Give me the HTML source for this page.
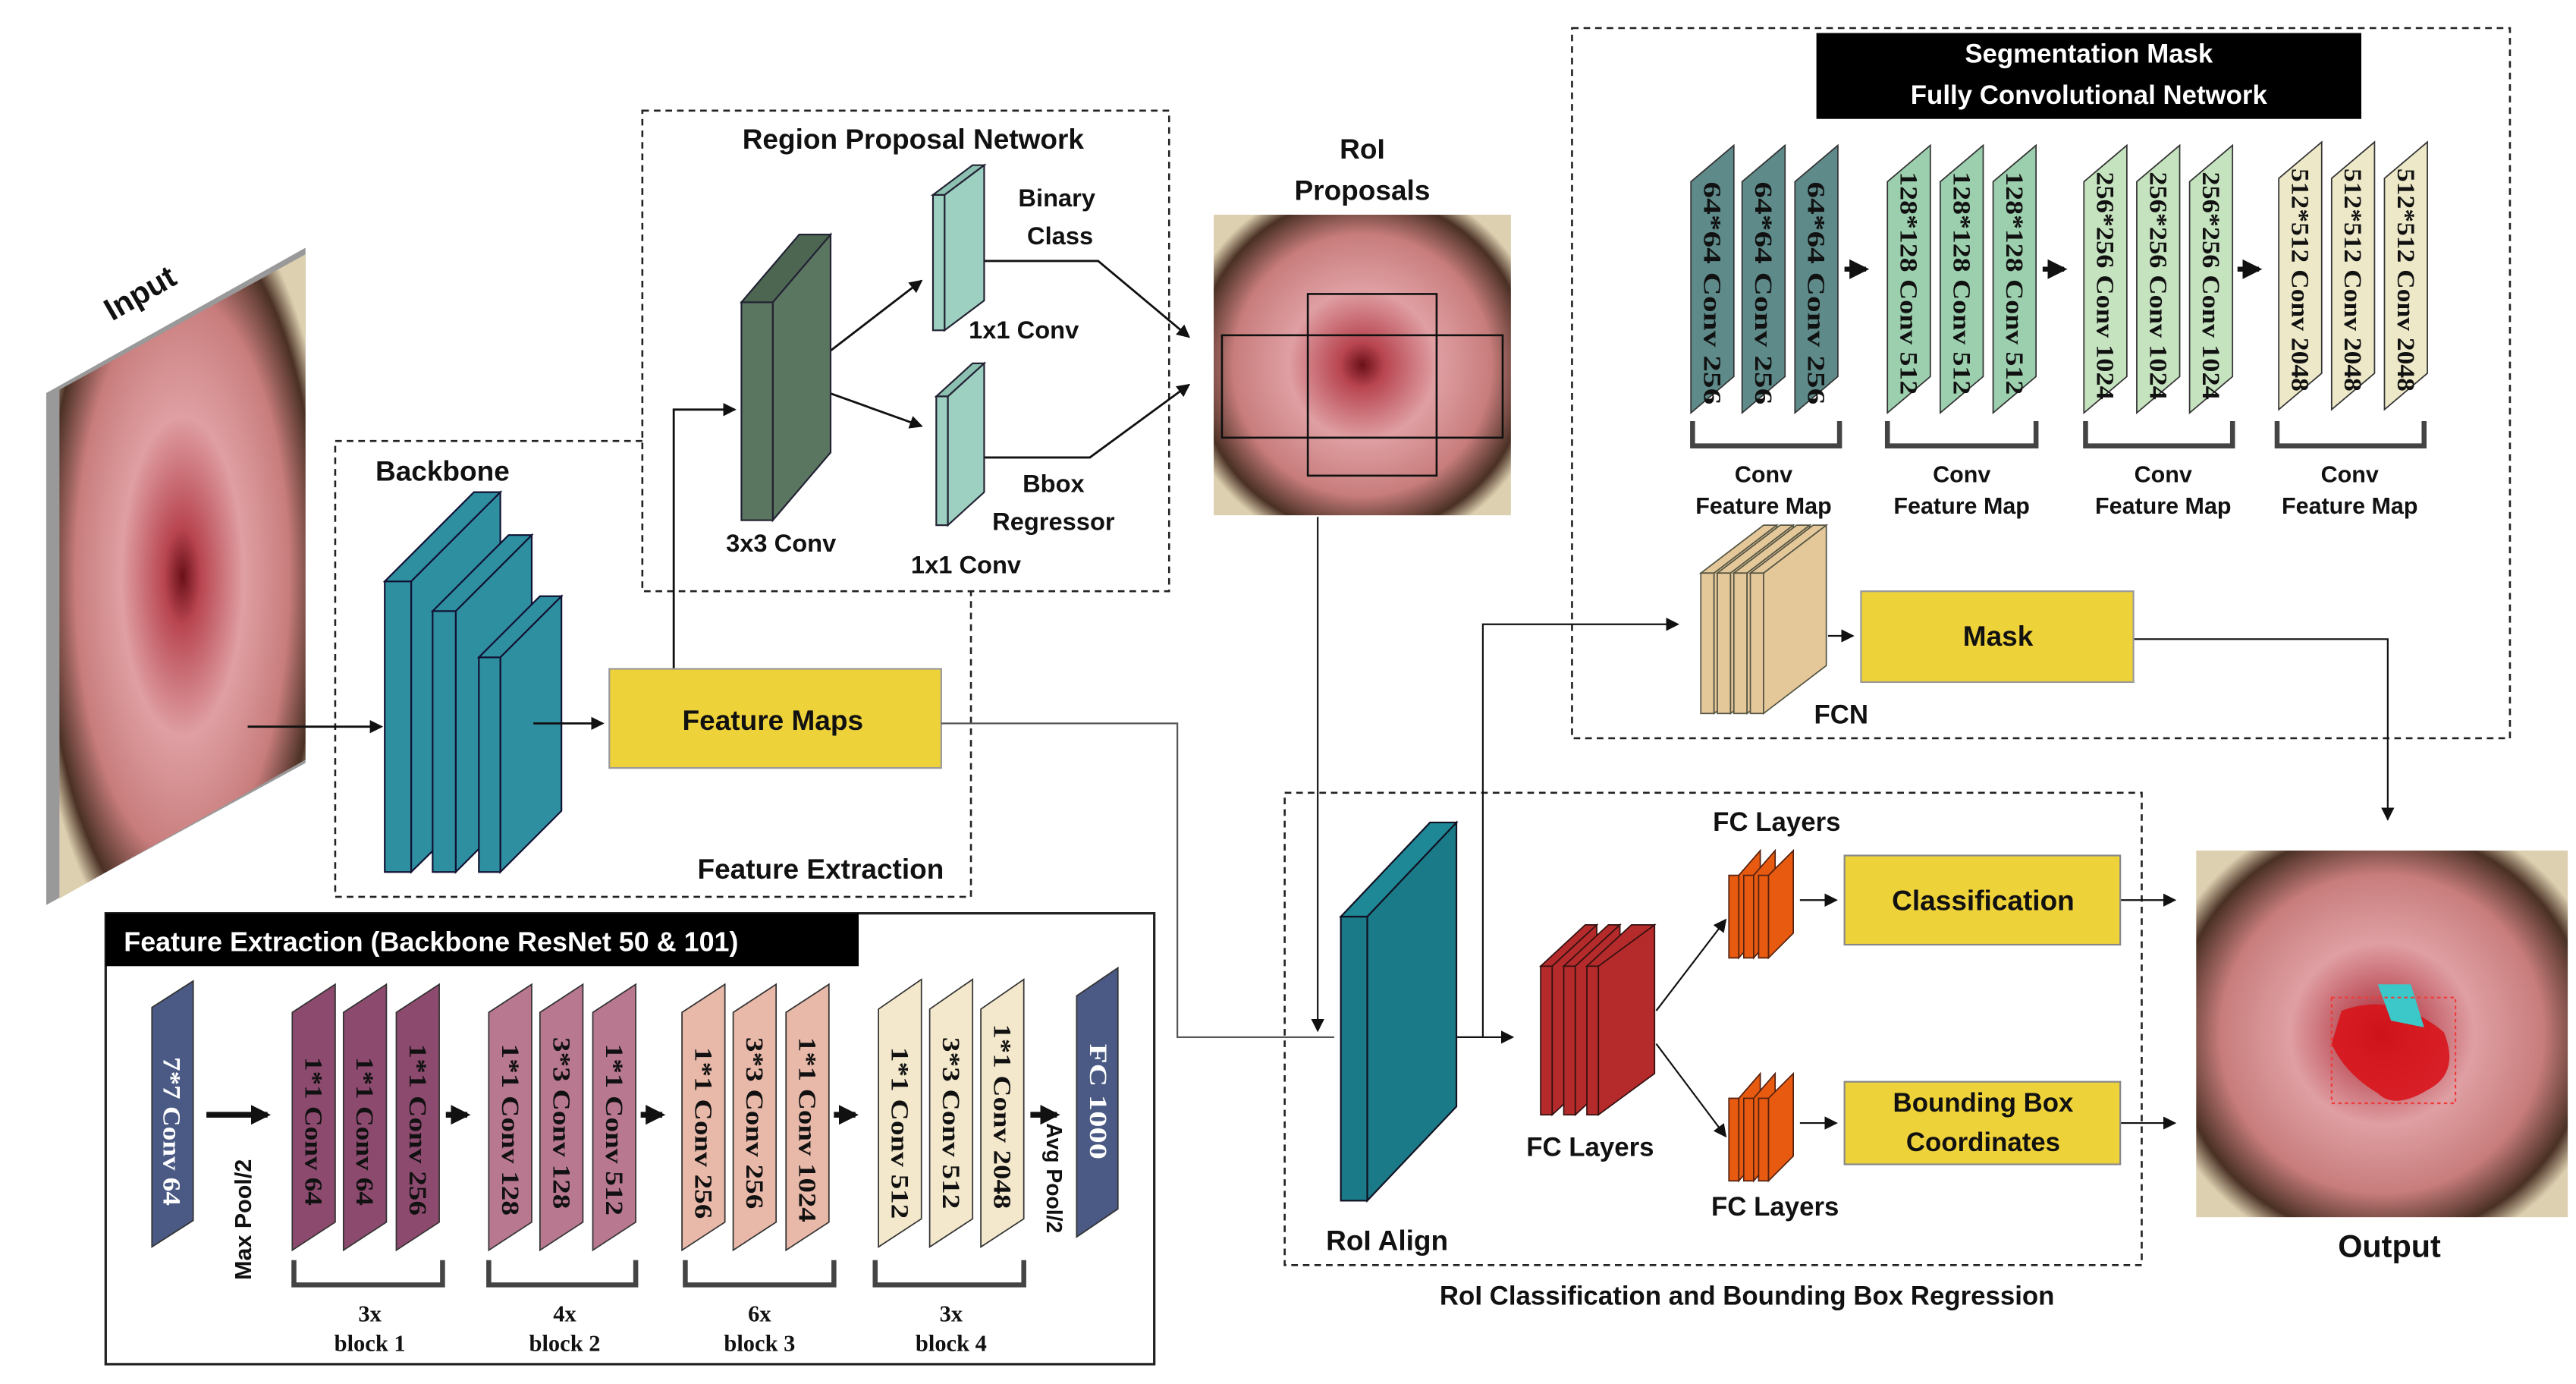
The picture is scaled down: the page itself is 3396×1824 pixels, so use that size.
<!DOCTYPE html>
<html><head><meta charset="utf-8"><style>
html,body{margin:0;padding:0;background:#fff}
svg{display:block}
text{font-family:"Liberation Sans",sans-serif;font-weight:bold;fill:#111}
.s{font-family:"Liberation Serif",serif;font-weight:bold;font-size:15px}
.t{font-family:"Liberation Serif",serif;font-weight:bold;font-size:15px}
</style></head><body>
<svg width="3396" height="1824" viewBox="0 0 1560 838" preserveAspectRatio="none" xmlns="http://www.w3.org/2000/svg">
<defs>
<radialGradient id="cx" cx="0.5" cy="0.5" r="0.62">
<stop offset="0" stop-color="#6a1018"/><stop offset="0.12" stop-color="#b84550"/><stop offset="0.4" stop-color="#df9fa3"/><stop offset="0.7" stop-color="#c87d7c"/><stop offset="0.9" stop-color="#4a3024"/><stop offset="1" stop-color="#ddd0b0"/>
</radialGradient>
<marker id="a" markerWidth="8" markerHeight="8" refX="7" refY="4" orient="auto" markerUnits="userSpaceOnUse"><path d="M0,0 L8,4 L0,8 Z" fill="#111"/></marker>
<marker id="b" markerWidth="12" markerHeight="12" refX="10" refY="6" orient="auto" markerUnits="userSpaceOnUse"><path d="M0,0 L12,6 L0,12 Z" fill="#111"/></marker>
</defs>
<g stroke="#222" stroke-width="1.2" fill="none" stroke-dasharray="4,3">
<path d="M389,267 L203,267 L203,543 L588,543 L588,358"/>
<rect x="389" y="67" width="319" height="291"/>
<rect x="952" y="17" width="568" height="430"/>
<rect x="778" y="480" width="519" height="286"/>
</g>
<polygon points="28,238 185,150 185,462 28,548" fill="#999"/>
<polygon points="36,236 185,154 185,460 36,544" fill="url(#cx)"/>
<text x="88" y="183" font-size="19" transform="rotate(-30 88 183)" text-anchor="middle">Input</text>
<text x="268" y="291" font-size="17" text-anchor="middle">Backbone</text>
<g stroke="#113" stroke-width="1" fill="#2e8fa0">
<polygon points="249,352 303,298 303,475 249,528"/><rect x="233" y="352" width="16" height="176"/><polygon points="233,352 287,298 303,298 249,352"/>
<polygon points="276,370 322,324 322,482 276,528"/><rect x="262" y="370" width="14" height="158"/><polygon points="262,370 308,324 322,324 276,370"/>
<polygon points="303,398 340,361 340,491 303,528"/><rect x="290" y="398" width="13" height="130"/><polygon points="290,398 327,361 340,361 303,398"/>
</g>
<g stroke="#111" stroke-width="1.3" fill="none">
<line x1="150" y1="440" x2="231" y2="440" marker-end="url(#a)"/>
<line x1="323" y1="438" x2="365" y2="438" marker-end="url(#a)"/>
<polyline points="408,405 408,248 445,248" marker-end="url(#a)"/>
<line x1="480" y1="230" x2="558" y2="170" marker-end="url(#a)"/>
<line x1="480" y1="230" x2="558" y2="258" marker-end="url(#a)"/>
<polyline points="590,158 665,158 720,204" marker-end="url(#a)"/>
<polyline points="592,277 660,277 720,233" marker-end="url(#a)"/>
</g>
<rect x="369" y="405" width="201" height="60" fill="#eed23a" stroke="#999"/>
<text x="468" y="442" font-size="17" text-anchor="middle">Feature Maps</text>
<text x="497" y="532" font-size="17" text-anchor="middle">Feature Extraction</text>
<text x="553" y="90" font-size="17" text-anchor="middle">Region Proposal Network</text>
<g stroke="#223" stroke-width="1">
<polygon points="468,183 503,142 503,274 468,315" fill="#5a7560"/><rect x="449" y="183" width="19" height="132" fill="#5a7560"/><polygon points="449,183 484,142 503,142 468,183" fill="#4d6652"/>
<polygon points="572,118 596,100 596,182 572,200" fill="#9dd0c0"/><rect x="565" y="118" width="7" height="82" fill="#9dd0c0"/><polygon points="565,118 589,100 596,100 572,118" fill="#8cc0b0"/>
<polygon points="574,240 596,220 596,298 574,318" fill="#9dd0c0"/><rect x="567" y="240" width="7" height="78" fill="#9dd0c0"/><polygon points="567,240 589,220 596,220 574,240" fill="#8cc0b0"/>
</g>
<text x="473" y="334" font-size="15" text-anchor="middle">3x3 Conv</text>
<text x="640" y="125" font-size="15" text-anchor="middle">Binary</text>
<text x="642" y="148" font-size="15" text-anchor="middle">Class</text>
<text x="620" y="205" font-size="15" text-anchor="middle">1x1 Conv</text>
<text x="638" y="298" font-size="15" text-anchor="middle">Bbox</text>
<text x="638" y="321" font-size="15" text-anchor="middle">Regressor</text>
<text x="585" y="347" font-size="15" text-anchor="middle">1x1 Conv</text>
<text x="825" y="96" font-size="17" text-anchor="middle">RoI</text>
<text x="825" y="121" font-size="17" text-anchor="middle">Proposals</text>
<rect x="735" y="130" width="180" height="182" fill="url(#cx)"/>
<g fill="none" stroke="#111" stroke-width="1.2"><rect x="740" y="203" width="170" height="62"/><rect x="792" y="178" width="78" height="110"/></g>
<g stroke="#555" stroke-width="1" fill="none">
<polyline points="570,438 713,438 713,628 808,628"/>
<line x1="798" y1="313" x2="798" y2="624" stroke="#111" marker-end="url(#a)"/>
<polyline points="880,628 898,628 898,378 1016,378" stroke="#111" marker-end="url(#a)"/>
<line x1="880" y1="628" x2="916" y2="628" stroke="#111" marker-end="url(#a)"/>
<polyline points="1292,387 1446,387 1446,496" stroke="#111" marker-end="url(#a)"/>
<line x1="1003" y1="612" x2="1045" y2="557" stroke="#111" marker-end="url(#a)"/>
<line x1="1003" y1="632" x2="1045" y2="688" stroke="#111" marker-end="url(#a)"/>
<line x1="1090" y1="545" x2="1112" y2="545" stroke="#111" marker-end="url(#a)"/>
<line x1="1090" y1="680" x2="1112" y2="680" stroke="#111" marker-end="url(#a)"/>
<line x1="1284" y1="545" x2="1317" y2="545" stroke="#111" marker-end="url(#a)"/>
<line x1="1284" y1="680" x2="1317" y2="680" stroke="#111" marker-end="url(#a)"/>
<line x1="1107" y1="385" x2="1122" y2="385" stroke="#111" marker-end="url(#a)"/>
</g>
<rect x="1100" y="20" width="330" height="52" fill="#000"/>
<text x="1265" y="38" font-size="16" text-anchor="middle" style="fill:#fff">Segmentation Mask</text>
<text x="1265" y="63" font-size="16" text-anchor="middle" style="fill:#fff">Fully Convolutional Network</text>
<g stroke="#333" stroke-width="0.8">
<polygon points="1024,110 1050,88 1050,228 1024,250" fill="#5f8a8a"/>
<polygon points="1055,110 1081,88 1081,228 1055,250" fill="#5f8a8a"/>
<polygon points="1087,110 1113,88 1113,228 1087,250" fill="#5f8a8a"/>
<polygon points="1143,110 1169,88 1169,228 1143,250" fill="#9ccfae"/>
<polygon points="1175,110 1201,88 1201,228 1175,250" fill="#9ccfae"/>
<polygon points="1207,110 1233,88 1233,228 1207,250" fill="#9ccfae"/>
<polygon points="1262,110 1288,88 1288,228 1262,250" fill="#c6e3c0"/>
<polygon points="1294,110 1320,88 1320,228 1294,250" fill="#c6e3c0"/>
<polygon points="1326,110 1352,88 1352,228 1326,250" fill="#c6e3c0"/>
<polygon points="1380,108 1406,86 1406,226 1380,248" fill="#ece8c8"/>
<polygon points="1412,108 1438,86 1438,226 1412,248" fill="#ece8c8"/>
<polygon points="1444,108 1470,86 1470,226 1444,248" fill="#ece8c8"/>
</g>
<text class="t" transform="translate(1032,110) rotate(90)" textLength="135" lengthAdjust="spacingAndGlyphs">64*64 Conv 256</text>
<text class="t" transform="translate(1063,110) rotate(90)" textLength="135" lengthAdjust="spacingAndGlyphs">64*64 Conv 256</text>
<text class="t" transform="translate(1095,110) rotate(90)" textLength="135" lengthAdjust="spacingAndGlyphs">64*64 Conv 256</text>
<text class="t" transform="translate(1151,104) rotate(90)" textLength="135" lengthAdjust="spacingAndGlyphs">128*128 Conv 512</text>
<text class="t" transform="translate(1183,104) rotate(90)" textLength="135" lengthAdjust="spacingAndGlyphs">128*128 Conv 512</text>
<text class="t" transform="translate(1215,104) rotate(90)" textLength="135" lengthAdjust="spacingAndGlyphs">128*128 Conv 512</text>
<text class="t" transform="translate(1270,104) rotate(90)" textLength="138" lengthAdjust="spacingAndGlyphs">256*256 Conv 1024</text>
<text class="t" transform="translate(1302,104) rotate(90)" textLength="138" lengthAdjust="spacingAndGlyphs">256*256 Conv 1024</text>
<text class="t" transform="translate(1334,104) rotate(90)" textLength="138" lengthAdjust="spacingAndGlyphs">256*256 Conv 1024</text>
<text class="t" transform="translate(1388,102) rotate(90)" textLength="135" lengthAdjust="spacingAndGlyphs">512*512 Conv 2048</text>
<text class="t" transform="translate(1420,102) rotate(90)" textLength="135" lengthAdjust="spacingAndGlyphs">512*512 Conv 2048</text>
<text class="t" transform="translate(1452,102) rotate(90)" textLength="135" lengthAdjust="spacingAndGlyphs">512*512 Conv 2048</text>
<g stroke="#111" stroke-width="3" fill="none">
<line x1="1117" y1="163" x2="1130" y2="163" marker-end="url(#b)"/>
<line x1="1237" y1="163" x2="1250" y2="163" marker-end="url(#b)"/>
<line x1="1355" y1="163" x2="1368" y2="163" marker-end="url(#b)"/>
</g>
<g stroke="#444" stroke-width="3" fill="none">
<polyline points="1025,255 1025,270 1114,270 1114,255"/>
<polyline points="1143,255 1143,270 1233,270 1233,255"/>
<polyline points="1263,255 1263,270 1352,270 1352,255"/>
<polyline points="1379,255 1379,270 1468,270 1468,255"/>
</g>
<g font-size="14" text-anchor="middle">
<text x="1068" y="292">Conv</text><text x="1068" y="311">Feature Map</text>
<text x="1188" y="292">Conv</text><text x="1188" y="311">Feature Map</text>
<text x="1310" y="292">Conv</text><text x="1310" y="311">Feature Map</text>
<text x="1423" y="292">Conv</text><text x="1423" y="311">Feature Map</text>
</g>
<g stroke="#554" stroke-width="0.8" fill="#e5c89a">
<polygon points="1030,347 1068,318 1076,318 1038,347"/><rect x="1030" y="347" width="8" height="85"/><polygon points="1038,347 1076,318 1076,403 1038,432"/>
<polygon points="1040,347 1078,318 1086,318 1048,347"/><rect x="1040" y="347" width="8" height="85"/><polygon points="1048,347 1086,318 1086,403 1048,432"/>
<polygon points="1050,347 1088,318 1096,318 1058,347"/><rect x="1050" y="347" width="8" height="85"/><polygon points="1058,347 1096,318 1096,403 1058,432"/>
<polygon points="1060,347 1098,318 1106,318 1068,347"/><rect x="1060" y="347" width="8" height="85"/><polygon points="1068,347 1106,318 1106,403 1068,432"/>
</g>
<text x="1115" y="438" font-size="16" text-anchor="middle">FCN</text>
<rect x="1127" y="358" width="165" height="55" fill="#eed23a" stroke="#999"/>
<text x="1210" y="391" font-size="17" text-anchor="middle">Mask</text>
<g stroke="#112" stroke-width="1">
<polygon points="828,555 882,498 882,670 828,727" fill="#1b7a88"/><rect x="812" y="555" width="16" height="172" fill="#1b7a88"/><polygon points="812,555 866,498 882,498 828,555" fill="#1f8896"/>
</g>
<text x="840" y="757" font-size="17" text-anchor="middle">RoI Align</text>
<g stroke="#311" stroke-width="0.8" fill="#b52a2a">
<polygon points="933,585 960,560 967,560 940,585"/><rect x="933" y="585" width="7" height="90"/><polygon points="940,585 967,560 967,650 940,675"/>
<polygon points="947,585 974,560 981,560 954,585"/><rect x="947" y="585" width="7" height="90"/><polygon points="954,585 981,560 981,650 954,675"/>
<polygon points="961,585 988,560 1002,560 975,585"/><rect x="961" y="585" width="7" height="90"/><polygon points="968,585 1002,560 1002,650 968,675"/>
</g>
<text x="963" y="700" font-size="16" text-anchor="middle">FC Layers</text>
<g stroke="#521" stroke-width="0.8" fill="#e85a10">
<rect x="1047" y="530" width="6" height="50"/><polygon points="1053,530 1066,515 1066,565 1053,580"/>
<rect x="1056" y="530" width="6" height="50"/><polygon points="1062,530 1075,515 1075,565 1062,580"/>
<rect x="1065" y="530" width="6" height="50"/><polygon points="1071,530 1086,515 1086,565 1071,580"/>
<rect x="1047" y="665" width="6" height="50"/><polygon points="1053,665 1066,650 1066,700 1053,715"/>
<rect x="1056" y="665" width="6" height="50"/><polygon points="1062,665 1075,650 1075,700 1062,715"/>
<rect x="1065" y="665" width="6" height="50"/><polygon points="1071,665 1086,650 1086,700 1071,715"/>
</g>
<text x="1076" y="503" font-size="16" text-anchor="middle">FC Layers</text>
<text x="1075" y="736" font-size="16" text-anchor="middle">FC Layers</text>
<rect x="1117" y="518" width="167" height="54" fill="#eed23a" stroke="#888"/>
<text x="1201" y="551" font-size="17" text-anchor="middle">Classification</text>
<rect x="1117" y="655" width="167" height="50" fill="#eed23a" stroke="#888"/>
<text x="1201" y="673" font-size="16" text-anchor="middle">Bounding Box</text>
<text x="1201" y="697" font-size="16" text-anchor="middle">Coordinates</text>
<text x="1058" y="790" font-size="16" text-anchor="middle">RoI Classification and Bounding Box Regression</text>
<rect x="1330" y="515" width="225" height="222" fill="url(#cx)"/>
<path d="M1418,612 Q1450,600 1480,625 Q1490,650 1470,660 Q1450,672 1440,662 Q1420,650 1412,632 Z" fill="#d8141c" opacity="0.9"/>
<path d="M1440,596 L1460,596 L1468,622 L1448,618 Z" fill="#3cc8c8"/>
<rect x="1412" y="604" width="75" height="64" fill="none" stroke="#f03a3a" stroke-dasharray="2,2"/>
<text x="1447" y="761" font-size="19" text-anchor="middle">Output</text>
<rect x="64" y="553" width="635" height="273" fill="none" stroke="#222" stroke-width="1.5"/>
<rect x="64" y="553" width="456" height="32" fill="#000"/>
<text x="75" y="576" font-size="16.5" style="fill:#fff">Feature Extraction (Backbone ResNet 50 &amp; 101)</text>
<g stroke="#333" stroke-width="0.8">
<polygon points="92,610 117,594 117,739 92,755" fill="#4a5a85"/>
<polygon points="177,613 203,596 203,740 177,757" fill="#8c4a6e"/>
<polygon points="208,613 234,596 234,740 208,757" fill="#8c4a6e"/>
<polygon points="240,613 266,596 266,740 240,757" fill="#8c4a6e"/>
<polygon points="296,613 322,596 322,740 296,757" fill="#b87890"/>
<polygon points="327,613 353,596 353,740 327,757" fill="#b87890"/>
<polygon points="359,613 385,596 385,740 359,757" fill="#b87890"/>
<polygon points="413,613 439,596 439,740 413,757" fill="#e8b8a8"/>
<polygon points="444,613 470,596 470,740 444,757" fill="#e8b8a8"/>
<polygon points="476,613 502,596 502,740 476,757" fill="#e8b8a8"/>
<polygon points="532,611 558,593 558,738 532,755" fill="#f3e8cc"/>
<polygon points="563,611 589,593 589,738 563,755" fill="#f3e8cc"/>
<polygon points="594,611 620,593 620,738 594,755" fill="#f3e8cc"/>
<polygon points="652,603 677,586 677,732 652,749" fill="#4a5a85"/>
</g>
<text class="s" transform="translate(99,640) rotate(90)" style="fill:#fff" textLength="90" lengthAdjust="spacingAndGlyphs">7*7 Conv 64</text>
<text class="s" transform="translate(660,632) rotate(90)" style="fill:#fff" textLength="70" lengthAdjust="spacingAndGlyphs">FC 1000</text>
<text class="s" transform="translate(185,640) rotate(90)" textLength="90" lengthAdjust="spacingAndGlyphs">1*1 Conv 64</text>
<text class="s" transform="translate(216,640) rotate(90)" textLength="90" lengthAdjust="spacingAndGlyphs">1*1 Conv 64</text>
<text class="s" transform="translate(248,632) rotate(90)" textLength="104" lengthAdjust="spacingAndGlyphs">1*1 Conv 256</text>
<text class="s" transform="translate(304,632) rotate(90)" textLength="104" lengthAdjust="spacingAndGlyphs">1*1 Conv 128</text>
<text class="s" transform="translate(335,628) rotate(90)" textLength="104" lengthAdjust="spacingAndGlyphs">3*3 Conv 128</text>
<text class="s" transform="translate(367,632) rotate(90)" textLength="104" lengthAdjust="spacingAndGlyphs">1*1 Conv 512</text>
<text class="s" transform="translate(421,634) rotate(90)" textLength="104" lengthAdjust="spacingAndGlyphs">1*1 Conv 256</text>
<text class="s" transform="translate(452,628) rotate(90)" textLength="104" lengthAdjust="spacingAndGlyphs">3*3 Conv 256</text>
<text class="s" transform="translate(484,628) rotate(90)" textLength="112" lengthAdjust="spacingAndGlyphs">1*1 Conv 1024</text>
<text class="s" transform="translate(540,634) rotate(90)" textLength="104" lengthAdjust="spacingAndGlyphs">1*1 Conv 512</text>
<text class="s" transform="translate(571,628) rotate(90)" textLength="104" lengthAdjust="spacingAndGlyphs">3*3 Conv 512</text>
<text class="s" transform="translate(602,620) rotate(90)" textLength="112" lengthAdjust="spacingAndGlyphs">1*1 Conv 2048</text>
<text transform="translate(152,775) rotate(-90)" font-size="14">Max Pool/2</text>
<text transform="translate(634,680) rotate(90)" font-size="13">Avg Pool/2</text>
<g stroke="#111" stroke-width="3.5" fill="none">
<line x1="125" y1="675" x2="162" y2="675" marker-end="url(#b)"/>
<line x1="270" y1="675" x2="283" y2="675" marker-end="url(#b)"/>
<line x1="388" y1="675" x2="401" y2="675" marker-end="url(#b)"/>
<line x1="505" y1="675" x2="518" y2="675" marker-end="url(#b)"/>
<line x1="624" y1="675" x2="640" y2="675" marker-end="url(#b)"/>
</g>
<g stroke="#444" stroke-width="3" fill="none">
<polyline points="178,763 178,778 268,778 268,763"/>
<polyline points="296,763 296,778 385,778 385,763"/>
<polyline points="415,763 415,778 505,778 505,763"/>
<polyline points="530,763 530,778 620,778 620,763"/>
</g>
<g font-size="14" text-anchor="middle">
<text x="224" y="800" style="font-family:'Liberation Serif',serif">3x</text><text x="224" y="818" style="font-family:'Liberation Serif',serif">block 1</text>
<text x="342" y="800" style="font-family:'Liberation Serif',serif">4x</text><text x="342" y="818" style="font-family:'Liberation Serif',serif">block 2</text>
<text x="460" y="800" style="font-family:'Liberation Serif',serif">6x</text><text x="460" y="818" style="font-family:'Liberation Serif',serif">block 3</text>
<text x="576" y="800" style="font-family:'Liberation Serif',serif">3x</text><text x="576" y="818" style="font-family:'Liberation Serif',serif">block 4</text>
</g>
</svg>
</body></html>
